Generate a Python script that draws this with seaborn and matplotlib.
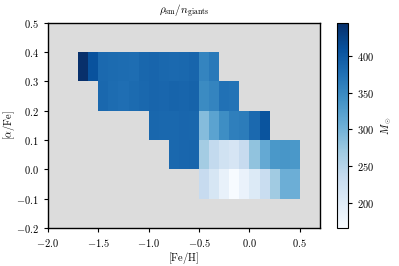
import numpy as np
import pandas as pd
import seaborn as sns

from matplotlib import pyplot as plt

# bin centres of the grid
feh_centres = np.round(np.arange(-1.65, 0.5, 0.1), 2)    # 22 columns, -1.65 .. 0.45
alpha_centres = [0.35, 0.25, 0.15, 0.05, -0.05]

nan = np.nan

# mass per giant, one row per [alpha/Fe] bin (top to bottom), NaN = empty bin
row_035 = [445, 409, 383, 381, 380, 379, 386, 388, 384, 383, 385, 388, 355, 367,
           nan, nan, nan, nan, nan, nan, nan, nan]
row_025 = [nan, nan, 385, 380, 378, 381, 385, 388, 387, 389, 388, 390, 347, 355,
           375, 373, nan, nan, nan, nan, nan, nan]
row_015 = [nan, nan, nan, nan, nan, nan, nan, 386, 384, 385, 387, 386, 288, 319,
           344, 360, 364, 383, 406, nan, nan, nan]
row_005 = [nan, nan, nan, nan, nan, nan, nan, nan, nan, 385, 387, 388, 266, 238,
           221, 213, 235, 280, 311, 333, 335, 333]
row_m005 = [nan, nan, nan, nan, nan, nan, nan, nan, nan, nan, nan, nan, 235, 212,
            187, 166, 185, 204, 232, 268, 305, 305]

rows = [row_035, row_025, row_015, row_005, row_m005]

feh, alpha, mass = [], [], []
for a, row in zip(alpha_centres, rows):
    for f, v in zip(feh_centres, row):
        if not np.isnan(v):
            feh.append(f)
            alpha.append(a)
            mass.append(v)

df = pd.DataFrame({"feh": feh, "alpha": alpha, "mass": mass})

plt.rcParams["font.family"] = "serif"
plt.rcParams["font.serif"] = ["cmr10"]
plt.rcParams["mathtext.fontset"] = "cm"
plt.rcParams["axes.formatter.use_mathtext"] = True
plt.rcParams["font.size"] = 7.5
plt.rcParams["axes.unicode_minus"] = True

fig = plt.figure(figsize=(3.99, 2.66), dpi=100)
ax = fig.add_axes([0.120, 0.143, 0.682, 0.771])
cax = fig.add_axes([0.845, 0.143, 0.026, 0.771])

ax.set_facecolor("#dcdcdc")

x_edges = np.round(np.arange(-2.0, 0.71, 0.1), 2)
y_edges = np.round(np.arange(-0.2, 0.51, 0.1), 2)

sns.histplot(df, x="feh", y="alpha", weights="mass", bins=[x_edges, y_edges],
             cmap="Blues", vmin=min(mass), vmax=max(mass), cbar=True, cbar_ax=cax,
             ax=ax)

ax.set_xlim(-2.0, 0.7)
ax.set_ylim(-0.2, 0.5)
ax.set_xticks([-2.0, -1.5, -1.0, -0.5, 0.0, 0.5])
ax.set_yticks([-0.2, -0.1, 0.0, 0.1, 0.2, 0.3, 0.4, 0.5])
ax.set_xlabel(r"$[\mathrm{Fe/H}]$", labelpad=1)
ax.set_ylabel(r"$[\alpha/\mathrm{Fe}]$", labelpad=-1)
ax.set_title(r"$\rho_\mathrm{sm}/n_\mathrm{giants}$", fontsize=8)
ax.tick_params(length=3, width=0.8)
for s in ax.spines.values():
    s.set_linewidth(1.0)

cax.set_ylabel(r"$M_\odot$")
cax.set_yticks([200, 250, 300, 350, 400])
cax.tick_params(length=3, width=0.8)

plt.savefig("out.png", dpi=100)
